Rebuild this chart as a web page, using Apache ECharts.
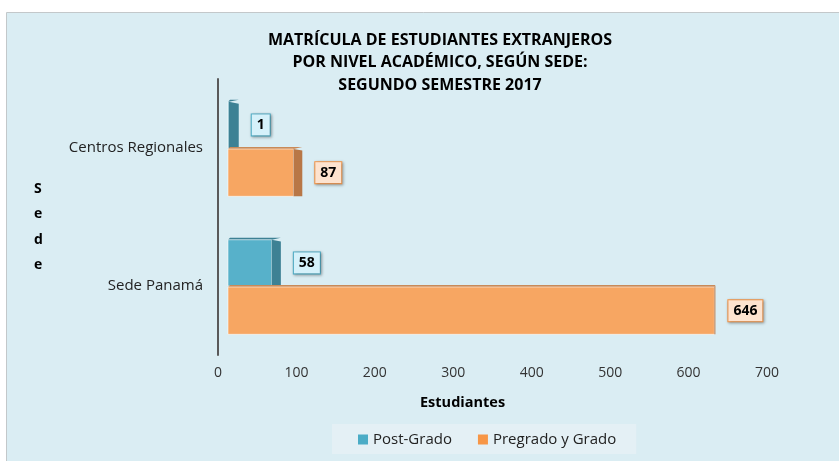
<!DOCTYPE html>
<html>
<head>
<meta charset="utf-8">
<script src="https://cdn.jsdelivr.net/npm/echarts@6/dist/echarts.min.js"></script>
<style>
  html, body { margin: 0; padding: 0; background: #fff; }
  #main { width: 839px; height: 461px; }
</style>
</head>
<body>
<div id="main"></div>
<script>
var sedes = ['Centros Regionales', 'Sede Panamá'];
var postGrado = [1, 58];
var pregrado = [87, 646];
var xTicks = [0, 100, 200, 300, 400, 500, 600, 700];

var caras = {
	post: { front: '#57b1ca', side: '#3d8194', top: '#3d8194', box: '#d5f1fa', border: '#4bacc6' },
	pre: { front: '#f7a662', side: '#b87746', top: '#c98a58', box: '#fde3cf', border: '#f79646' }
};

// barra con efecto 3D (cara frontal + lateral) y etiqueta en caja
function barra3d(tipo, arriba) {
	return function (params, api) {
		var v = api.value(0), c = api.value(1);
		var base = api.coord([0, c]);
		var fin = api.coord([v, c]);
		var banda = api.size([0, 1])[1];
		var col = caras[tipo];
		var x0 = base[0] + 10;
		var xf = x0 + (fin[0] - base[0]) * 0.96;
		var y1, y2;
		if (arriba) { y1 = base[1] - banda * 0.335; y2 = base[1]; }
		else { y1 = base[1] + 1; y2 = base[1] + banda * 0.35; }
		var w = Math.max(1, 10 * (1 - (xf - x0) / 540));
		return {
			type: 'group',
			children: [
				{ type: 'polygon', shape: { points: [[x0, y1], [xf, y1], [xf + w, y1 - 2], [x0 + 2, y1 - 2]] },
				  style: { fill: col.top } },
				{ type: 'rect', shape: { x: x0, y: y1, width: Math.max(xf - x0, 0.5), height: y2 - y1 },
				  style: { fill: col.front, stroke: 'rgba(255,255,255,0.55)', lineWidth: 1 } },
				{ type: 'polygon', shape: { points: [[xf, y1], [xf + w, y1 + w * 0.4 - 2], [xf + w, y2], [xf, y2]] },
				  style: { fill: col.side } },
				{ type: 'text', x: xf + w + 13, y: (y1 + y2) / 2,
				  style: {
					text: String(v), fill: '#000', font: 'bold 14px "Open Sans"',
					verticalAlign: 'middle', align: 'left',
					backgroundColor: col.box, borderColor: col.border, borderWidth: 1,
					padding: [4, 5, 3, 5],
					shadowColor: 'rgba(0,0,0,0.35)', shadowBlur: 3, shadowOffsetX: 1, shadowOffsetY: 1
				  } }
			]
		};
	};
}

var chart = echarts.init(document.getElementById('main'));
chart.setOption({
	backgroundColor: '#fff',
	animation: false,
	graphic: [
		{ type: 'rect', z: -10, shape: { x: 6.5, y: 12.5, width: 840, height: 460 },
		  style: { fill: '#daedf3', stroke: '#c3c8ca', lineWidth: 1 } },
		{ type: 'text', left: 34, top: 176, z: 10,
		  style: { text: 'S\ne\nd\ne', font: 'bold 14px "Open Sans"', fill: '#000', lineHeight: 25.5, align: 'center' } },
		{ type: 'text', left: 420, top: 395, z: 10,
		  style: { text: 'Estudiantes', font: 'bold 14.5px "Open Sans"', fill: '#000' } }
	],
	title: {
		text: 'MATRÍCULA DE ESTUDIANTES EXTRANJEROS\nPOR NIVEL ACADÉMICO, SEGÚN SEDE:\nSEGUNDO SEMESTRE 2017',
		left: 435, top: 24, textAlign: 'center',
		textStyle: { fontFamily: 'Open Sans', fontSize: 16, fontWeight: 'bold', color: '#000', lineHeight: 22.5 }
	},
	legend: {
		left: 332, top: 424,
		backgroundColor: '#e4f0f5',
		padding: [8, 20, 7, 26],
		itemWidth: 10, itemHeight: 10, itemGap: 26, icon: 'rect',
		textStyle: { fontFamily: 'Open Sans', fontSize: 15, color: '#222' },
		data: ['Post-Grado', 'Pregrado y Grado']
	},
	grid: { left: 218, right: 72, top: 79, bottom: 106 },
	xAxis: {
		type: 'value', min: xTicks[0], max: xTicks[xTicks.length - 1], interval: 100,
		axisLine: { show: false }, axisTick: { show: false }, splitLine: { show: false },
		axisLabel: { fontFamily: 'Open Sans', fontSize: 14, color: '#333', margin: 11 }
	},
	yAxis: {
		type: 'category', data: sedes, inverse: true,
		axisLine: { show: true, lineStyle: { color: '#595959', width: 2 } },
		axisTick: { show: false },
		axisLabel: { fontFamily: 'Open Sans', fontSize: 15, color: '#222', margin: 15 }
	},
	series: [
		{ name: 'Post-Grado', type: 'custom', itemStyle: { color: '#4bacc6' },
		  encode: { x: 0, y: 1 }, renderItem: barra3d('post', true),
		  data: postGrado.map(function (v, i) { return [v, i]; }) },
		{ name: 'Pregrado y Grado', type: 'custom', itemStyle: { color: '#f79646' },
		  encode: { x: 0, y: 1 }, renderItem: barra3d('pre', false),
		  data: pregrado.map(function (v, i) { return [v, i]; }) }
	]
});
</script>
</body>
</html>
